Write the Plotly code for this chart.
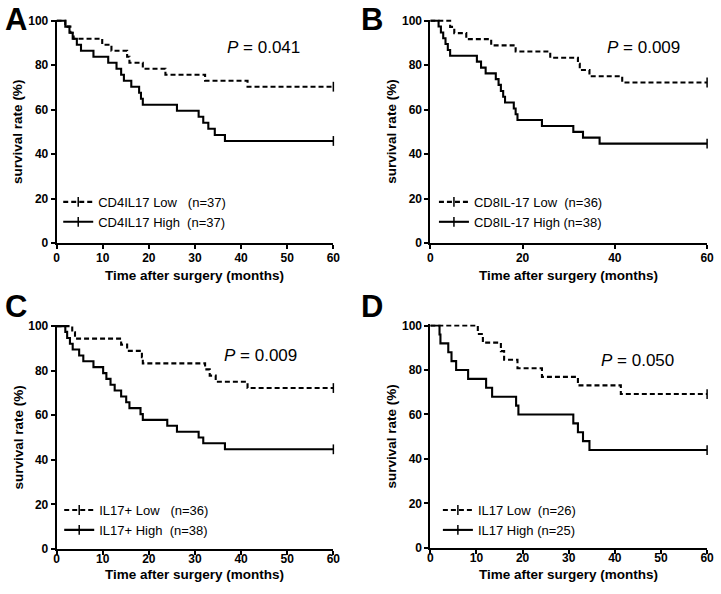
import plotly.graph_objects as go

W, H = 721, 594

# ---------------- data (event times in months, survival %) ----------------
# Panel A
a_low_t = [1.9, 3.0, 3.7, 9.9, 11.9, 15.3, 15.8, 18.7, 23.6, 32.2, 41.4]
a_low_s = [97.3, 94.6, 91.9, 89.2, 86.5, 83.8, 81.1, 78.4, 75.7, 73.0, 70.3]
a_high_t = [1.9, 2.8, 3.5, 4.4, 5.3, 8.0, 11.2, 13.0, 14.0, 14.6, 16.2, 17.9, 18.3, 18.7,
            26.1, 30.8, 31.8, 32.9, 34.3, 36.5]
a_high_s = [97.3, 94.6, 91.9, 89.2, 86.5, 83.8, 81.1, 78.4, 75.7, 73.0, 70.3, 67.6, 64.9, 62.2,
            59.5, 56.8, 54.1, 51.4, 48.6, 45.9]
# Panel B
b_low_t = [4.3, 5.2, 7.8, 13.2, 18.5, 26.0, 32.0, 32.4, 34.5, 41.6]
b_low_s = [97.2, 94.4, 91.7, 88.9, 86.1, 83.3, 80.6, 77.8, 75.0, 72.2]
b_high_t = [1.8, 2.3, 2.8, 3.3, 3.8, 4.3, 10.1, 11.0, 12.0, 14.2, 14.8, 15.3, 15.8, 16.2,
            18.1, 18.5, 18.9, 24.2, 31.0, 33.1, 36.7]
b_high_s = [97.4, 94.7, 92.1, 89.5, 86.8, 84.2, 81.6, 78.9, 76.3, 73.7, 71.1, 68.4, 65.8, 63.2,
            60.5, 57.9, 55.3, 52.6, 50.0, 47.4, 44.7]
# Panel C
c_low_t = [3.4, 4.0, 14.0, 15.3, 18.5, 18.7, 32.2, 33.2, 34.5, 41.4]
c_low_s = [97.2, 94.4, 91.7, 88.9, 86.1, 83.3, 80.6, 77.8, 75.0, 72.2]
c_high_t = [1.9, 2.3, 2.9, 3.5, 4.9, 5.8, 8.0, 10.1, 10.8, 11.7, 12.6, 14.0, 15.1, 15.8,
            18.2, 18.7, 24.0, 26.1, 30.8, 31.8, 36.5]
c_high_s = [97.4, 94.7, 92.1, 89.5, 86.8, 84.2, 81.6, 78.9, 76.3, 73.7, 71.1, 68.4, 65.8, 63.2,
            60.5, 57.9, 55.3, 52.6, 50.0, 47.4, 44.7]
# Panel D
d_low_t = [10.3, 11.4, 15.3, 16.0, 18.9, 24.2, 32.0, 41.3]
d_low_s = [96.2, 92.3, 88.5, 84.6, 80.8, 76.9, 73.1, 69.2]
d_high_t = [2.0, 2.2, 3.9, 4.6, 5.6, 8.2, 12.1, 13.4, 18.6, 19.1, 31.0, 32.0, 33.1, 34.5]
d_high_s = [96, 92, 88, 84, 80, 76, 72, 68, 64, 60, 56, 52, 48, 44]

panel_letters = ["A", "B", "C", "D"]
low_names = ["CD4IL17 Low\u00a0\u00a0\u00a0(n=37)", "CD8IL-17 Low\u00a0\u00a0(n=36)",
             "IL17+ Low\u00a0\u00a0\u00a0(n=36)", "IL17 Low\u00a0\u00a0(n=26)"]
high_names = ["CD4IL17 High\u00a0\u00a0(n=37)", "CD8IL-17 High\u00a0(n=38)",
              "IL17+ High\u00a0\u00a0(n=38)", "IL17 High\u00a0(n=25)"]
p_values = ["0.041", "0.009", "0.009", "0.050"]
x_dticks = [10, 20, 10, 10]
y_ticks = [0, 20, 40, 60, 80, 100]
t_max = 60

lows = [(a_low_t, a_low_s), (b_low_t, b_low_s), (c_low_t, c_low_s), (d_low_t, d_low_s)]
highs = [(a_high_t, a_high_s), (b_high_t, b_high_s), (c_high_t, c_high_s), (d_high_t, d_high_s)]

# ---------------- layout geometry (pixels) ----------------
def px2x(p):
    return p / W

def px2y(p):
    return 1 - p / H

# plot areas: (left, right, top(100), bottom(0))
areas = [(54.3, 335.0, 15.0, 242.3), (433.3, 714.0, 15.0, 242.3),
         (54.3, 335.0, 327.3, 555.0), (433.3, 714.0, 326.7, 554.0)]
YTOP = 100.5

fig = go.Figure()
FONT = "Arial, Liberation Sans, sans-serif"
DASH = "5px,3px"

layout = dict(width=W, height=H, margin=dict(l=0, r=0, t=0, b=0),
              paper_bgcolor="white", plot_bgcolor="white", annotations=[])

for i in range(4):
    L, R, T, B = areas[i]
    ppx = (B - T) / 100.0
    top_px = T - (YTOP - 100) * ppx
    xa = "xaxis" if i == 0 else f"xaxis{i+1}"
    ya = "yaxis" if i == 0 else f"yaxis{i+1}"
    xr = "x" if i == 0 else f"x{i+1}"
    yr = "y" if i == 0 else f"y{i+1}"
    lg = "legend" if i == 0 else f"legend{i+1}"
    standoff = -1 if i < 2 else -6
    layout[xa] = dict(domain=[px2x(L), px2x(R)], anchor=yr, range=[0, t_max], dtick=x_dticks[i],
                      showline=True, linecolor="black", linewidth=1.8, ticks="outside",
                      ticklen=4, tickwidth=1.6, tickcolor="black", showgrid=False, zeroline=False,
                      tickfont=dict(family=FONT, size=12, color="black", weight="bold"),
                      ticklabelstandoff=standoff)
    layout[ya] = dict(domain=[px2y(B), px2y(top_px)], anchor=xr, range=[0, YTOP], tickvals=y_ticks,
                      showline=True, linecolor="black", linewidth=1.8, ticks="outside",
                      ticklen=4, tickwidth=1.6, tickcolor="black", showgrid=False, zeroline=False,
                      tickfont=dict(family=FONT, size=12, color="black", weight="bold"))

    for (tt, ss), name, dash in [(lows[i], low_names[i], DASH), (highs[i], high_names[i], "solid")]:
        xs = [0] + tt + [t_max]
        ys = [100] + ss + [ss[-1]]
        fig.add_trace(go.Scatter(x=xs, y=ys, xaxis=xr, yaxis=yr, mode="lines", line_shape="hv",
                                 line=dict(color="black", width=2.1, dash=dash), showlegend=False,
                                 hoverinfo="skip"))
        # censor tick at end of follow-up (also carries the legend entry)
        fig.add_trace(go.Scatter(x=[t_max], y=[ss[-1]], xaxis=xr, yaxis=yr, mode="lines+markers",
                                 line=dict(color="black", width=2.1, dash=dash),
                                 marker=dict(symbol="line-ns", size=7, color="black",
                                             line=dict(color="black", width=1.5)),
                                 cliponaxis=False, name=name, legend=lg, showlegend=True))

    leg_top = {0: 185, 1: 185, 2: 500, 3: 500}[i]
    leg_left = {0: 56, 1: 437, 2: 57, 3: 441}[i]
    layout[lg] = dict(x=px2x(leg_left), y=px2y(leg_top), xanchor="left", yanchor="top",
                      bgcolor="rgba(0,0,0,0)", font=dict(family=FONT, size=13, color="black"),
                      itemclick=False, itemdoubleclick=False, traceorder="normal")

    # panel letter
    letter_x = 0 if i in (0, 2) else 361
    letter_y = 14 if i < 2 else 307
    layout["annotations"].append(dict(text=f"<b>{panel_letters[i]}</b>", x=px2x(letter_x),
                                      y=px2y(letter_y), xref="paper", yref="paper",
                                      xanchor="left", yanchor="middle", showarrow=False,
                                      font=dict(family=FONT, size=31, color="black")))
    # P value
    pcx = [264.5, 650.0, 261.5, 643.5][i]
    pcy = [42, 42, 357, 362][i]
    layout["annotations"].append(dict(text=f"<i>P</i> = {p_values[i]}", x=px2x(pcx), y=px2y(pcy),
                                      xref="paper", yref="paper", xanchor="center",
                                      yanchor="middle", showarrow=False,
                                      font=dict(family=FONT, size=17, color="black")))
    # axis titles
    xtx = (L + R) / 2
    xty = 276 if i < 2 else 581
    layout["annotations"].append(dict(text="<b>Time after surgery (months)</b>", x=px2x(xtx),
                                      y=px2y(xty), xref="paper", yref="paper", xanchor="center",
                                      yanchor="middle", showarrow=False,
                                      font=dict(family=FONT, size=13.5, color="black")))
    ytx = L - 39
    yty = (T + B) / 2
    layout["annotations"].append(dict(text="<b>survival rate (%)</b>", x=px2x(ytx), y=px2y(yty),
                                      xref="paper", yref="paper", xanchor="center",
                                      yanchor="middle", showarrow=False, textangle=-90,
                                      font=dict(family=FONT, size=13.5, color="black")))

fig.update_layout(**layout)
fig.write_html("out.html", config={"displayModeBar": False})

# remove the browser's default page margin so the figure sits at the window's origin
with open("out.html", "r", encoding="utf-8") as f:
    html = f.read()
html = html.replace("<head>", "<head><style>html,body{margin:0;padding:0;overflow:hidden;}</style>", 1)
with open("out.html", "w", encoding="utf-8") as f:
    f.write(html)
